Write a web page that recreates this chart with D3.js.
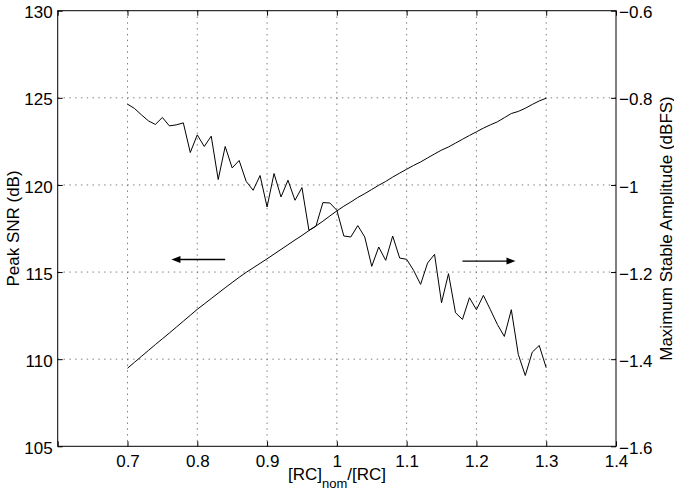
<!DOCTYPE html>
<html>
<head>
<meta charset="utf-8">
<script src="https://cdn.jsdelivr.net/npm/d3@7"></script>
<style>
  html, body { margin: 0; padding: 0; background: #fff; }
  svg { display: block; font-family: "Liberation Sans", Arial, Helvetica, sans-serif; }
</style>
</head>
<body>
<svg id="chart" width="674" height="493"></svg>
<script>
// ---- data ----
const xValues = d3.range(61).map(i => +(0.70 + i * 0.01).toFixed(2));

// Peak SNR (dB), left axis – smooth rising curve
const peakSNR = [
  109.48, 109.82, 110.16, 110.50, 110.84, 111.17, 111.50, 111.84, 112.18, 112.52,
  112.86, 113.17, 113.48, 113.79, 114.10, 114.40, 114.70, 114.98, 115.24, 115.50,
  115.76, 116.03, 116.30, 116.57, 116.84, 117.10, 117.38, 117.64, 117.92, 118.22,
  118.51, 118.78, 119.02, 119.28, 119.50, 119.74, 119.98, 120.20, 120.45, 120.68,
  120.90, 121.12, 121.32, 121.55, 121.78, 122.00, 122.18, 122.40, 122.62, 122.84,
  123.05, 123.26, 123.45, 123.62, 123.86, 124.10, 124.22, 124.40, 124.62, 124.82,
  124.98
];

// Maximum Stable Amplitude (dBFS), right axis – jagged falling curve
const maxStableAmp = [
  -0.8145, -0.8244, -0.8391, -0.8529, -0.8611, -0.8451, -0.8644, -0.8621, -0.8575, -0.9255,
  -0.8851, -0.9117, -0.8880, -0.9876, -0.9117, -0.9609, -0.9439, -0.9915, -1.0122, -0.9784,
  -1.0506, -0.9738, -1.0276, -0.9892, -1.0352, -1.0060, -1.1041, -1.0949, -1.0405, -1.0414,
  -1.0582, -1.1172, -1.1195, -1.0933, -1.1195, -1.1869, -1.1425, -1.1731, -1.1172, -1.1678,
  -1.1708, -1.1961, -1.2283, -1.1793, -1.1593, -1.2703, -1.2037, -1.2933, -1.3087, -1.2589,
  -1.2864, -1.2536, -1.2864, -1.3202, -1.3478, -1.2864, -1.3892, -1.4375, -1.3839, -1.3685,
  -1.4198
];

const xTicks = [0.6, 0.7, 0.8, 0.9, 1.0, 1.1, 1.2, 1.3, 1.4];
const xTickLabels = ["", "0.7", "0.8", "0.9", "1", "1.1", "1.2", "1.3", "1.4"];
const leftTicks = [105, 110, 115, 120, 125, 130];
const leftTickLabels = ["105", "110", "115", "120", "125", "130"];
const rightTicks = [-1.6, -1.4, -1.2, -1.0, -0.8, -0.6];
const rightTickLabels = ["\u22121.6", "\u22121.4", "\u22121.2", "\u22121", "\u22120.8", "\u22120.6"];

// arrow annotations (data units, left axis for y)
const arrowLeft = { from: 0.840, to: 0.763, y: 115.72 };
const arrowRight = { from: 1.180, to: 1.256, y: 115.63 };

const leftLabel = "Peak SNR (dB)";
const rightLabel = "Maximum Stable Amplitude (dBFS)";

// ---- layout ----
const L = 57.7, R = 616, T = 10.7, B = 446.3;
const svg = d3.select("#chart");

const x = d3.scaleLinear().domain([0.6, 1.4]).range([L, R]);
const yL = d3.scaleLinear().domain([105, 130]).range([B, T]);
const yR = d3.scaleLinear().domain([-1.6, -0.6]).range([B, T]);

// grid
const grid = svg.append("g").attr("stroke", "#808080").attr("stroke-width", 1)
  .attr("stroke-dasharray", "1.5,4.3").attr("fill", "none");
grid.selectAll("line.v").data(xTicks.slice(1, -1)).join("line")
  .attr("x1", d => x(d)).attr("x2", d => x(d)).attr("y1", T).attr("y2", B);
grid.selectAll("line.h").data(leftTicks.slice(1, -1)).join("line")
  .attr("x1", L).attr("x2", R).attr("y1", d => yL(d)).attr("y2", d => yL(d));

// axes
const fontSize = 17;
function styleAxis(g) {
  g.select(".domain").remove();
  g.selectAll(".tick line").attr("stroke", "#000");
  g.selectAll(".tick text").attr("font-size", fontSize).attr("fill", "#000")
    .attr("font-family", "'Liberation Sans', Arial, Helvetica, sans-serif");
}

svg.append("g").attr("transform", `translate(0,${B})`)
  .call(d3.axisBottom(x).tickValues(xTicks).tickSize(-5).tickPadding(8.5)
    .tickFormat((d, i) => xTickLabels[i]))
  .call(styleAxis);
svg.append("g").attr("transform", `translate(0,${T})`)
  .call(d3.axisTop(x).tickValues(xTicks).tickSize(-5).tickFormat(""))
  .call(styleAxis);
svg.append("g").attr("transform", `translate(${L},0)`)
  .call(d3.axisLeft(yL).tickValues(leftTicks).tickSize(-5).tickPadding(5)
    .tickFormat((d, i) => leftTickLabels[i]))
  .call(styleAxis)
  .call(g => g.selectAll(".tick text").attr("dy", "0.42em"));
svg.append("g").attr("transform", `translate(${R},0)`)
  .call(d3.axisRight(yR).tickValues(rightTicks).tickSize(-5).tickPadding(3)
    .tickFormat((d, i) => rightTickLabels[i]))
  .call(styleAxis)
  .call(g => g.selectAll(".tick text").attr("dy", "0.42em"));

// frame
svg.append("rect").attr("x", L).attr("y", T).attr("width", R - L).attr("height", B - T)
  .attr("fill", "none").attr("stroke", "#000").attr("stroke-width", 1);

// lines
const lineL = d3.line().x((d, i) => x(xValues[i])).y(d => yL(d));
const lineR = d3.line().x((d, i) => x(xValues[i])).y(d => yR(d));
svg.append("path").datum(peakSNR).attr("d", lineL)
  .attr("fill", "none").attr("stroke", "#000").attr("stroke-width", 1);
svg.append("path").datum(maxStableAmp).attr("d", lineR)
  .attr("fill", "none").attr("stroke", "#000").attr("stroke-width", 1);

// arrows
function arrow(a) {
  const x1 = x(a.from), x2 = x(a.to), y = yL(a.y);
  const dir = Math.sign(x2 - x1), head = 9, hw = 3.5;
  svg.append("line").attr("x1", x1).attr("x2", x2 - dir * head * 0.6).attr("y1", y).attr("y2", y)
    .attr("stroke", "#000").attr("stroke-width", 1.3);
  svg.append("path")
    .attr("d", `M${x2},${y} L${x2 - dir * head},${y - hw} L${x2 - dir * head},${y + hw} Z`)
    .attr("fill", "#000");
}
arrow(arrowLeft);
arrow(arrowRight);

// axis titles
svg.append("text").attr("transform", `translate(19,${(T + B) / 2}) rotate(-90)`)
  .attr("text-anchor", "middle").attr("font-size", 17).text(leftLabel);
svg.append("text").attr("transform", `translate(671.5,${(T + B) / 2}) rotate(-90)`)
  .attr("text-anchor", "middle").attr("font-size", 17).text(rightLabel);
const xt = svg.append("text").attr("x", 337).attr("y", 480)
  .attr("text-anchor", "middle").attr("font-size", 17);
xt.append("tspan").text("[RC]");
xt.append("tspan").attr("font-size", 13).attr("dy", 8).text("nom");
xt.append("tspan").attr("dy", -8).text("/[RC]");
</script>
</body>
</html>
